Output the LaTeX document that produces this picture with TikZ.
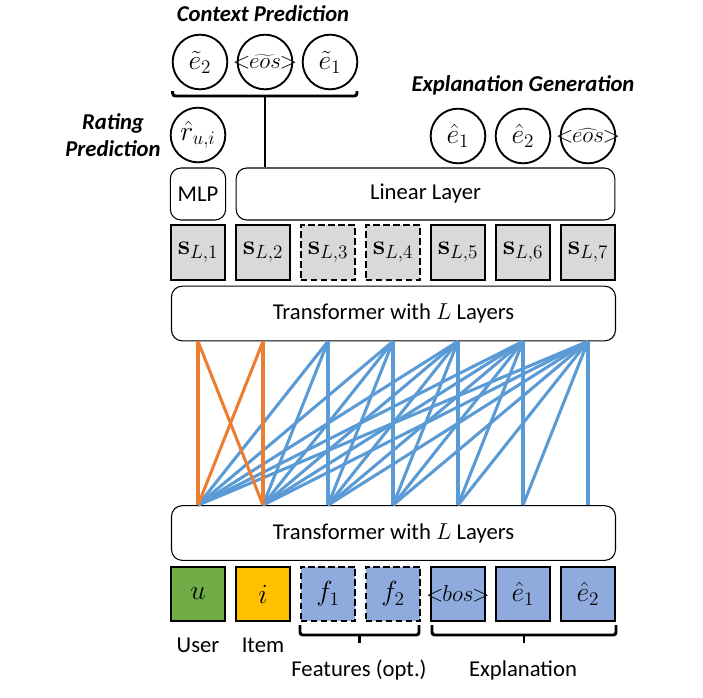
\documentclass[tikz,border=0pt]{standalone}
\usepackage[no-math]{fontspec}
\setmainfont{Carlito}
\usetikzlibrary{positioning}

\definecolor{usergreen}{HTML}{70AD47}
\definecolor{itemgold}{HTML}{FFC000}
\definecolor{tokblue}{HTML}{8FAADC}
\definecolor{hidgray}{HTML}{D9D9D9}
\definecolor{attorange}{HTML}{ED7D31}
\definecolor{attblue}{HTML}{5B9BD5}

\newcommand{\eostok}[1]{\makebox[0pt]{\fontsize{18}{21}\selectfont${<}\mkern-1mu#1{eos}\mkern-1mu{>}$}}

\begin{document}
\begin{tikzpicture}[x=0.75pt,y=-0.75pt,
		tok/.style={draw,line width=1.7pt,minimum size=41pt,inner sep=0pt,font=\fontsize{20}{23}\selectfont},
		hid/.style={tok,fill=hidgray},
		dsh/.style={dash pattern=on 5pt off 2.5pt},
		layer/.style={draw,rounded corners=8pt,line width=0.8pt,inner sep=0pt,minimum height=41pt,font=\fontsize{17}{20}\selectfont},
		outc/.style={draw,circle,line width=1.4pt,minimum size=41pt,inner sep=0pt,font=\fontsize{20}{23}\selectfont},
		title/.style={font=\fontsize{17}{20}\selectfont\bfseries\itshape},
		lbl/.style={font=\fontsize{17}{20}\selectfont},
		att/.style={line width=2.3pt},
		brk/.style={line width=2.2pt,rounded corners=2pt}]
		
		\useasboundingbox (0,0) rectangle (703,697);
		
		% input tokens
		\node [tok,fill=usergreen] (in1) at (198,594) {$u$};
		\node [tok,fill=itemgold] (in2) at (263,594) {$i$};
		\node [tok,fill=tokblue,dsh] (in3) at (328,594) {$f_1$};
		\node [tok,fill=tokblue,dsh] (in4) at (393,594) {$f_2$};
		\node [tok,fill=tokblue] (in5) at (458,594) {\makebox[0pt]{\fontsize{18}{21}\selectfont${<}\mkern-1mu bos\mkern-1mu{>}$}};
		\node [tok,fill=tokblue] (in6) at (523,594) {$\hat{e}_1$};
		\node [tok,fill=tokblue] (in7) at (588,594) {$\hat{e}_2$};
		
		\node [lbl] (user) at (198,645) {User};
		\node [lbl] (item) at (263,645) {Item};
		\node [lbl] (feat) at (359,670) {Features (opt.)};
		\node [lbl] (expl) at (523,670) {Explanation};
		
		\draw [brk] (300,625) |- (419,635) -- (419,625);
		\draw [brk] (359.5,635) -- (359.5,643);
		\draw [brk] (432,625) |- (616,635) -- (616,625);
		\draw [brk] (524,635) -- (524,643);
		
		% transformers
		\node [layer,minimum width=333pt] (trbot) at (393.5,533) {Transformer with $L$ Layers};
		\node [layer,minimum width=333pt] (trtop) at (393.5,313.5) {Transformer with $L$ Layers};
		
		% hidden states
		\foreach \k/\st in {1/solid,2/solid,3/dsh,4/dsh,5/solid,6/solid,7/solid}
		\node [hid,\st] (s\k) at ({198+65*(\k-1)},252.5) {$\mathbf{s}_{L,\k}$};
		
		% attention
		\foreach \k in {1,...,7} {
			\coordinate (t\k) at (trtop.south -| s\k);
			\coordinate (b\k) at (trbot.north -| in\k);
		}
		\foreach \j in {3,...,7} {
			\foreach \i in {1,...,\j}
			\draw [att,attblue] (t\j) -- (b\i);
		}
		\foreach \j in {1,2} {
			\foreach \i in {1,2}
			\draw [att,attorange] (t\j) -- (b\i);
		}
		
		% heads
		\node [layer,minimum width=41.5pt,minimum height=39pt] (mlp) at (198,194) {MLP};
		\node [layer,minimum width=284pt,minimum height=39pt] (lin) at (425.5,194) {Linear Layer};
		
		\node [outc] (rat) at (198,135) {$\hat{r}_{u,i}$};
		\node [outc] (o1) at (458,136) {$\hat{e}_1$};
		\node [outc] (o2) at (523,136) {$\hat{e}_2$};
		\node [outc] (o3) at (588,136) {\eostok{\widehat}};
		
		\node [outc] (c1) at (200,62) {$\tilde{e}_2$};
		\node [outc] (c2) at (265,62) {\eostok{\widetilde}};
		\node [outc] (c3) at (330,62) {$\tilde{e}_1$};
		
		\draw [brk] (172.7,91) |- (357,96) -- (357,91);
		\coordinate (ctx) at (265,96);
		\draw [brk] (ctx) -- (lin.north -| ctx);
		
		\node [title] (tctx) at (263,14) {Context Prediction};
		\node [title] (texp) at (523,85) {Explanation Generation};
		\node [title,align=center] (trat) at (113,135) {Rating\\Prediction};
		
\end{tikzpicture}
\end{document}
